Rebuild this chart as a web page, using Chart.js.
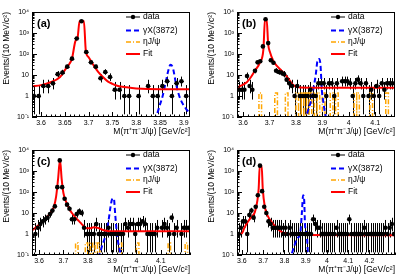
<!DOCTYPE html>
<html>
<head>
<meta charset="utf-8">
<script src="https://cdn.jsdelivr.net/npm/chart.js@4.4.0/dist/chart.umd.min.js"></script>
<style>
  body { margin: 0; background: #fff; }
  #grid { position: relative; width: 410px; height: 277px; }
  canvas { position: absolute; }
</style>
</head>
<body>
<div id="grid">
  <canvas id="pa" width="205" height="138" style="left:0;top:0"></canvas>
  <canvas id="pb" width="205" height="138" style="left:205px;top:0"></canvas>
  <canvas id="pc" width="205" height="138" style="left:0;top:138px"></canvas>
  <canvas id="pd" width="205" height="138" style="left:205px;top:138px"></canvas>
</div>
<script>
const binWidth = 0.01;
const yTickValues = [0.1, 1, 10, 100, 1000, 10000];
const yTickLabels = ['10⁻¹', '1', '10', '10²', '10³', '10⁴'];

// (a)
const ticksA = [3.6, 3.65, 3.7, 3.75, 3.8, 3.85, 3.9];
const firstBinA = 3.585;
const countsA = [1, 1, 3, 3, 4, 11, 13, 25, 60, 550, 3600, 125, 40, 25, 7, 14, 8, 2, 2, 1,
  1, null, 1, null, 3, 1, 1, 3, 5, 1, 4, 5, 1];
const fitMassA = [3.581, 3.6, 3.62, 3.64, 3.65, 3.66, 3.665, 3.672, 3.677, 3.681, 3.69, 3.694,
  3.70, 3.71, 3.72, 3.73, 3.74, 3.75, 3.76, 3.78, 3.80, 3.85, 3.913];
const fitA = [2.9, 3.3, 4.5, 8, 17, 35, 60, 400, 650, 3700, 3700, 150,
  70, 30, 14, 8, 5, 3.8, 3.1, 2.6, 2.3, 2.1, 2.1];
const gammaMassA = [3.581, 3.84, 3.85, 3.855, 3.862, 3.867, 3.872, 3.877, 3.883, 3.888, 3.893, 3.9, 3.905, 3.913];
const gammaA = [0.1, 0.1, 0.4, 0.9, 4.5, 15, 31, 22, 4.5, 1.5, 0.7, 0.35, 0.24, 0.15];
const etaBinsA = [];
const etaHeightA = 0.1;

// (b)
const ticksB = [3.6, 3.7, 3.8, 3.9, 4, 4.1];
const firstBinB = 3.585;
const countsB = [2, 2, 2, 9, 3, 2, 16, 40, 45, 230, 4500, 330, 50, 38, 16, 14, 13, 11, 6, 4,
  3, 1, 3, 1, 1, 1, 1, 2, 1, 1, 4, 4, 4, 1, 4, 4, 1, 4, null, 5,
  5, 5, 4, 1, 4, 6, 4, 1, 4, 1, 2, 1, 3, 1, 4, 2, 4, 4, 4];
const fitMassB = [3.577, 3.59, 3.614, 3.63, 3.645, 3.664, 3.677, 3.683, 3.689, 3.695, 3.702,
  3.714, 3.727, 3.74, 3.758, 3.777, 3.79, 3.809, 3.85, 4.175];
const fitB = [2.5, 3, 4.5, 8, 16, 40, 170, 4800, 4800, 300, 120,
  48, 28, 19, 11, 5.4, 3.3, 2.6, 2.5, 2.5];
const gammaMassB = [3.577, 3.834, 3.85, 3.86, 3.868, 3.875, 3.882, 3.888, 3.893, 3.898, 3.903, 3.915, 4.175];
const gammaB = [0.1, 0.1, 0.3, 0.8, 3, 10, 50, 58, 30, 2, 0.6, 0.1, 0.1];
const etaBinsB = [3.665, 3.725, 3.765, 3.805, 3.815, 3.825, 3.835, 3.845, 3.855, 3.875,
  3.885, 3.905, 3.935, 3.955, 4.025, 4.035, 4.085, 4.145];
const etaHeightB = 1.4;

// (c)
const ticksC = [3.6, 3.7, 3.8, 3.9, 4, 4.1];
const firstBinC = 3.585;
const countsC = [1, 2, 3, 4, 5, 6, 9, 13, 21, 170, 3200, 170, 48, 25, 16, 5, 5, 9, 12, 10,
  2, 1, 1, 1, 1, 3, 1, 1, 1, 1, 2, 1, 1, 1, 1, 1, 1, 3, 2, 3,
  3, 1, 3, 3, 4, 3, 1, 1, 1, 1, 2, null, 2, 3, 2, 1, 6, 1, 2, null,
  1, 2, 2, 2];
const fitMassC = [3.571, 3.59, 3.61, 3.63, 3.65, 3.66, 3.67, 3.678, 3.686, 3.693, 3.7, 3.713,
  3.725, 3.735, 3.75, 3.765, 3.78, 3.795, 3.81, 3.825, 3.84, 3.86, 3.88, 3.9, 4.22];
const fitC = [1.5, 2.2, 3.5, 6, 11, 18, 60, 400, 3300, 400, 90, 30,
  15, 10, 6, 4, 2.6, 1.9, 1.9, 2.1, 2.0, 1.6, 1.4, 1.35, 1.35];
const gammaMassC = [3.571, 3.845, 3.86, 3.875, 3.885, 3.893, 3.9, 3.907, 3.913, 3.92, 3.93, 3.94, 4.22];
const gammaC = [0.1, 0.1, 0.3, 1, 4, 18, 45, 50, 8, 1, 0.2, 0.1, 0.1];
const etaBinsC = [3.755, 3.795, 3.815, 3.835, 3.845, 3.935, 4.005, 4.135, 4.205];
const etaHeightC = 0.37;

// (d)
const ticksD = [3.6, 3.7, 3.8, 3.9, 4, 4.1, 4.2];
const firstBinD = 3.585;
const countsD = [1, 2, 4, 4, 1, 8, 13, 6, 20, 70, 1800, 110, 20, 10, 4, 3, 2, 2, 2, 2,
  2, 1, 2, 1, 2, 1, 1, 1, 1, 1, 1, 1, 1, 1, 1, 5, 3, 2, 2, 1,
  1, 1, 1, 1, 1, 1, 2, 1, 1, 1, 1, 1, 5, 1, 1, 1, 1, 1, 1, 2,
  1, 1, 1, 1, 1, 1, 1, 1, 1, 2, 1, 2, 3, 1];
const fitMassD = [3.577, 3.60, 3.61, 3.622, 3.645, 3.661, 3.673, 3.679, 3.684, 3.693, 3.698,
  3.708, 3.724, 3.74, 3.763, 3.786, 3.818, 3.85, 4.32];
const fitD = [1.0, 1.05, 1.8, 3.1, 6.5, 11, 40, 150, 1800, 1800, 150,
  19, 6.5, 3.7, 2, 1.25, 1.0, 0.9, 0.88];
const gammaMassD = [3.577, 3.83, 3.845, 3.86, 3.875, 3.882, 3.888, 3.893, 3.897, 3.905, 3.912, 4.32];
const gammaD = [0.1, 0.1, 0.25, 0.6, 1.2, 10, 70, 40, 2.5, 1, 0.1, 0.1];
const etaBinsD = [];
const etaHeightD = 0.1;

const FONT = '"Liberation Sans", Arial, sans-serif';
Chart.defaults.font.family = FONT;
Chart.defaults.color = '#000';

function zip(xs, ys) {
  return xs.map((x, i) => ({ x, y: ys[i] }));
}

function binPoints(first, counts) {
  const pts = [];
  counts.forEach((n, i) => {
    if (n != null) pts.push({ x: +(first + i * binWidth).toFixed(3), y: n });
  });
  return pts;
}

// histogram outline for the sparse ηJ/ψ bins, sitting on the axis floor
function etaPoints(bins, h, lo, hi) {
  const pts = [{ x: lo, y: 0.1 }];
  bins.forEach(c => {
    pts.push({ x: c - 0.005, y: 0.1 }, { x: c - 0.005, y: h }, { x: c + 0.005, y: h }, { x: c + 0.005, y: 0.1 });
  });
  pts.push({ x: hi, y: 0.1 });
  return pts;
}

const rootStyle = {
  id: 'rootStyle',
  beforeDatasetsDraw(chart) {
    const { ctx, chartArea: a, scales: { x, y } } = chart;
    const pts = chart.data.datasets[0].data;
    ctx.save();
    ctx.beginPath();
    ctx.rect(a.left, a.top, a.right - a.left, a.bottom - a.top);
    ctx.clip();
    ctx.strokeStyle = '#000';
    ctx.lineWidth = 1;
    pts.forEach(p => {
      const n = p.y;
      const lo = Math.max(n - Math.sqrt(Math.max(n - 0.25, 0)), 0.1);
      const hi = n + 1 + Math.sqrt(n + 0.75);
      const px = Math.round(x.getPixelForValue(p.x)) + 0.5;
      const py = Math.round(y.getPixelForValue(n)) + 0.5;
      ctx.beginPath();
      ctx.moveTo(px, y.getPixelForValue(lo));
      ctx.lineTo(px, y.getPixelForValue(hi));
      ctx.moveTo(x.getPixelForValue(p.x - binWidth / 2), py);
      ctx.lineTo(x.getPixelForValue(p.x + binWidth / 2), py);
      ctx.stroke();
    });
    ctx.restore();
  },
  afterDraw(chart, args, opts) {
    const { ctx, chartArea: a, scales: { x, y } } = chart;
    ctx.save();
    ctx.strokeStyle = '#000';
    ctx.lineWidth = 1;
    ctx.strokeRect(a.left + 0.5, a.top + 0.5, a.right - a.left - 1, a.bottom - a.top - 1);

    // ticks inside the frame
    ctx.beginPath();
    for (let d = -1; d <= 4; d++) {
      for (let k = 1; k <= 9; k++) {
        const v = k * Math.pow(10, d);
        if (v > 10000) break;
        const py = Math.round(y.getPixelForValue(v)) + 0.5;
        ctx.moveTo(a.left, py);
        ctx.lineTo(a.left + (k === 1 ? 5 : 2.5), py);
      }
    }
    const start = Math.ceil(x.min / opts.minor - 1e-6);
    for (let i = start; i * opts.minor <= x.max + 1e-9; i++) {
      const v = i * opts.minor;
      const major = opts.ticks.some(t => Math.abs(t - v) < 1e-6);
      const px = Math.round(x.getPixelForValue(v)) + 0.5;
      ctx.moveTo(px, a.bottom);
      ctx.lineTo(px, a.bottom - (major ? 5 : 2.5));
    }
    ctx.stroke();

    // panel label
    ctx.fillStyle = '#000';
    ctx.font = 'bold 11px ' + FONT;
    ctx.textBaseline = 'middle';
    ctx.textAlign = 'left';
    ctx.fillText(opts.label, a.left + 5, a.top + 12);

    // legend
    const ds = chart.data.datasets;
    const entries = [
      { d: ds[0], text: 'data', dy: 5 },
      { d: ds[2], text: 'γX(3872)', dy: 18.5 },
      { d: ds[3], text: 'ηJ/ψ', dy: 30 },
      { d: ds[1], text: 'Fit', dy: 42 }
    ];
    const x0 = a.left + 94, x1 = a.left + 108;
    ctx.font = '8.5px ' + FONT;
    entries.forEach((e, i) => {
      const ly = a.top + e.dy;
      ctx.beginPath();
      ctx.strokeStyle = i === 0 ? '#000' : e.d.borderColor;
      ctx.lineWidth = i === 0 ? 1 : e.d.borderWidth;
      ctx.setLineDash(i === 0 ? [] : (e.d.borderDash || []));
      ctx.moveTo(x0, ly);
      ctx.lineTo(x1, ly);
      ctx.stroke();
      ctx.setLineDash([]);
      if (i === 0) {
        ctx.beginPath();
        ctx.arc((x0 + x1) / 2, ly, 2.2, 0, Math.PI * 2);
        ctx.fill();
      }
      ctx.fillStyle = '#000';
      ctx.fillText(e.text, x1 + 3, ly);
    });
    ctx.restore();
  }
};

function makePanel(p) {
  new Chart(document.getElementById(p.id), {
    type: 'scatter',
    data: {
      datasets: [
        { label: 'data', data: binPoints(p.first, p.counts), pointRadius: 2.3, pointBackgroundColor: '#000',
          pointBorderWidth: 0, showLine: false, order: 0 },
        { label: 'Fit', data: zip(p.fitX, p.fitY), showLine: true, pointRadius: 0, borderColor: '#ff0000',
          borderWidth: 2, cubicInterpolationMode: 'monotone', order: 1 },
        { label: 'γX(3872)', data: zip(p.gX, p.gY), showLine: true, pointRadius: 0, borderColor: '#0000ff',
          borderWidth: 2, borderDash: [5, 3], cubicInterpolationMode: 'monotone', order: 2 },
        { label: 'ηJ/ψ', data: etaPoints(p.eta, p.etaH, p.min, p.max), showLine: true, pointRadius: 0,
          borderColor: '#ffa500', borderWidth: 1.5, borderDash: [5, 2, 1, 2], order: 3 }
      ]
    },
    options: {
      responsive: false,
      animation: false,
      events: [],
      layout: { padding: { top: 12, right: 15, left: 0, bottom: 0 } },
      plugins: {
        legend: { display: false },
        tooltip: { enabled: false },
        rootStyle: { label: p.label, ticks: p.ticks, minor: p.minor }
      },
      scales: {
        x: {
          type: 'linear', min: p.min, max: p.max,
          grid: { display: false, drawTicks: false }, border: { display: false },
          afterBuildTicks: s => { s.ticks = p.ticks.map(v => ({ value: v })); },
          afterFit: s => { s.height = 21; },
          ticks: { font: { size: 7 }, padding: 2, maxRotation: 0, autoSkip: false, callback: v => String(v) },
          title: { display: true, text: 'M(π⁺π⁻J/ψ) [GeV/c²]', align: 'end', font: { size: 8.5 },
            padding: { top: 0, bottom: 1 } }
        },
        y: {
          type: 'logarithmic', min: 0.1, max: 10000,
          grid: { display: false, drawTicks: false }, border: { display: false },
          afterBuildTicks: s => { s.ticks = yTickValues.map(v => ({ value: v })); },
          afterFit: s => { s.width = 32; },
          ticks: { font: { size: 7 }, padding: 3, autoSkip: false,
            callback: v => yTickLabels[yTickValues.indexOf(v)] },
          title: { display: true, text: 'Events/(10 MeV/c²)', align: 'end', font: { size: 8.5 },
            padding: { top: 2, bottom: 0 } }
        }
      }
    },
    plugins: [rootStyle]
  });
}

[
  { id: 'pa', label: '(a)', min: 3.581, max: 3.913, ticks: ticksA, minor: 0.01, first: firstBinA, counts: countsA,
    fitX: fitMassA, fitY: fitA, gX: gammaMassA, gY: gammaA, eta: etaBinsA, etaH: etaHeightA },
  { id: 'pb', label: '(b)', min: 3.577, max: 4.175, ticks: ticksB, minor: 0.02, first: firstBinB, counts: countsB,
    fitX: fitMassB, fitY: fitB, gX: gammaMassB, gY: gammaB, eta: etaBinsB, etaH: etaHeightB },
  { id: 'pc', label: '(c)', min: 3.571, max: 4.22, ticks: ticksC, minor: 0.02, first: firstBinC, counts: countsC,
    fitX: fitMassC, fitY: fitC, gX: gammaMassC, gY: gammaC, eta: etaBinsC, etaH: etaHeightC },
  { id: 'pd', label: '(d)', min: 3.577, max: 4.32, ticks: ticksD, minor: 0.02, first: firstBinD, counts: countsD,
    fitX: fitMassD, fitY: fitD, gX: gammaMassD, gY: gammaD, eta: etaBinsD, etaH: etaHeightD }
].forEach(makePanel);
</script>
</body>
</html>
